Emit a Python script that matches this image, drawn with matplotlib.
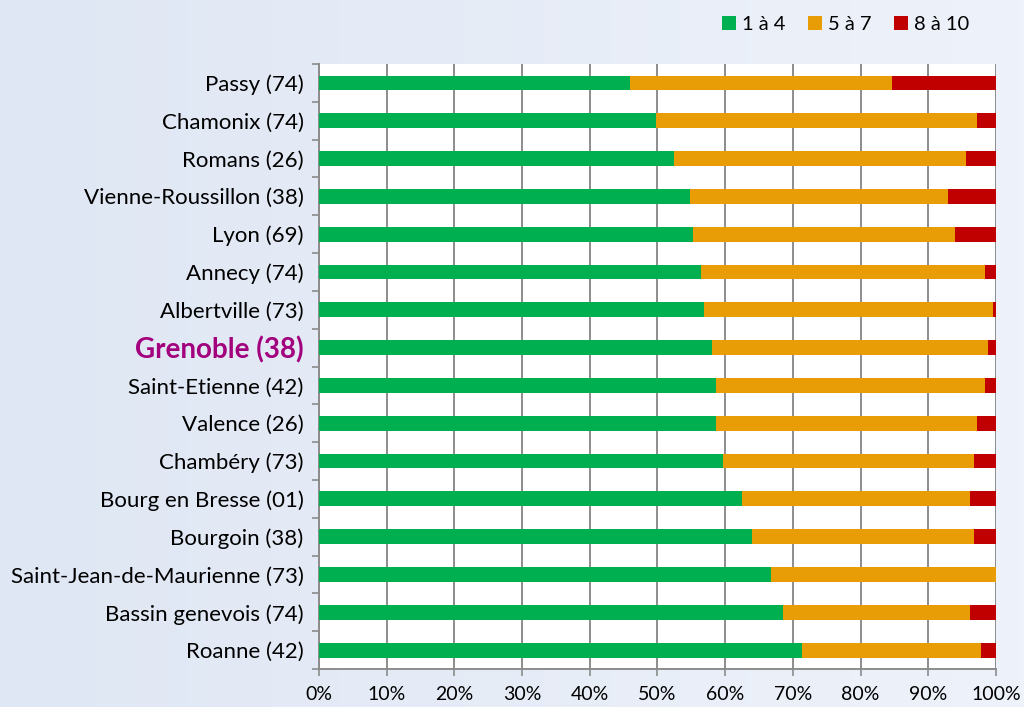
import numpy as np
import matplotlib.pyplot as plt
from matplotlib.colors import LinearSegmentedColormap

plt.rcParams["font.family"] = ["Lato", "DejaVu Sans"]

cities = [
    "Passy (74)", "Chamonix (74)", "Romans (26)", "Vienne-Roussillon (38)",
    "Lyon (69)", "Annecy (74)", "Albertville (73)", "Grenoble (38)",
    "Saint-Etienne (42)", "Valence (26)", "Chambéry (73)",
    "Bourg en Bresse (01)", "Bourgoin (38)", "Saint-Jean-de-Maurienne (73)",
    "Bassin genevois (74)", "Roanne (42)",
]
low = [45.9, 49.8, 52.5, 54.8, 55.2, 56.4, 56.9, 58.0,
       58.6, 58.6, 59.7, 62.5, 64.0, 66.7, 68.5, 71.3]
mid = [38.7, 47.4, 43.1, 38.1, 38.7, 42.0, 42.6, 40.9,
       39.8, 38.6, 37.0, 33.7, 32.7, 33.3, 27.7, 26.5]
high = [15.4, 2.8, 4.4, 7.1, 6.1, 1.6, 0.5, 1.1,
        1.6, 2.8, 3.3, 3.8, 3.3, 0.0, 3.8, 2.2]
series = ["1 à 4", "5 à 7", "8 à 10"]
colors = ["#00b050", "#e89c06", "#c00000"]
highlight = "Grenoble (38)"

fig = plt.figure(figsize=(10.24, 7.07), dpi=100)

# light blue gradient background
bg = fig.add_axes([0, 0, 1, 1], zorder=-10)
grad = np.linspace(0, 1, 256).reshape(1, -1)
cmap = LinearSegmentedColormap.from_list("bg", ["#dfe7f4", "#eef2fa"])
bg.imshow(grad, aspect="auto", cmap=cmap, extent=[0, 1, 0, 1])
bg.axis("off")

ax = fig.add_axes([0.3115, 0.0537, 0.6611, 0.8558])
ax.set_facecolor("white")

y = np.arange(len(cities))
left = np.zeros(len(cities))
for vals, name, col in zip([low, mid, high], series, colors):
    ax.barh(y, vals, left=left, height=0.39, color=col, label=name, zorder=3)
    left += np.array(vals)

ax.set_xlim(0, 100)
ax.set_ylim(len(cities) - 0.5, -0.5)
ax.set_xticks(np.arange(0, 101, 10))
ax.set_xticklabels([f"{v}%" for v in range(0, 101, 10)], fontsize=14)
ax.set_yticks(y)
ax.set_yticklabels(cities, fontsize=16)
ax.set_yticks(np.arange(-0.5, len(cities), 1), minor=True)
ax.tick_params(axis="y", which="major", length=0, pad=11)
ax.tick_params(axis="y", which="minor", length=5, color="#8c8c8c", width=1.2)
ax.tick_params(axis="x", length=5, color="#8c8c8c", width=1.2, pad=7)
ax.grid(axis="x", color="#8c8c8c", linewidth=1.4, zorder=0)
ax.set_axisbelow(True)

for s in ["top", "right"]:
    ax.spines[s].set_visible(False)
for s in ["left", "bottom"]:
    ax.spines[s].set_color("#8c8c8c")
    ax.spines[s].set_linewidth(1.4)

for lab in ax.get_yticklabels():
    if lab.get_text() == highlight:
        lab.set_color("#a3007d")
        lab.set_fontweight("bold")
        lab.set_fontsize(20)

leg = fig.legend(loc="upper right", bbox_to_anchor=(0.964, 1.003), ncol=3,
                 frameon=False, fontsize=14.5, handlelength=0.7, handleheight=0.7,
                 handletextpad=0.3, columnspacing=1.1)

fig.savefig("out.png", dpi=100)
